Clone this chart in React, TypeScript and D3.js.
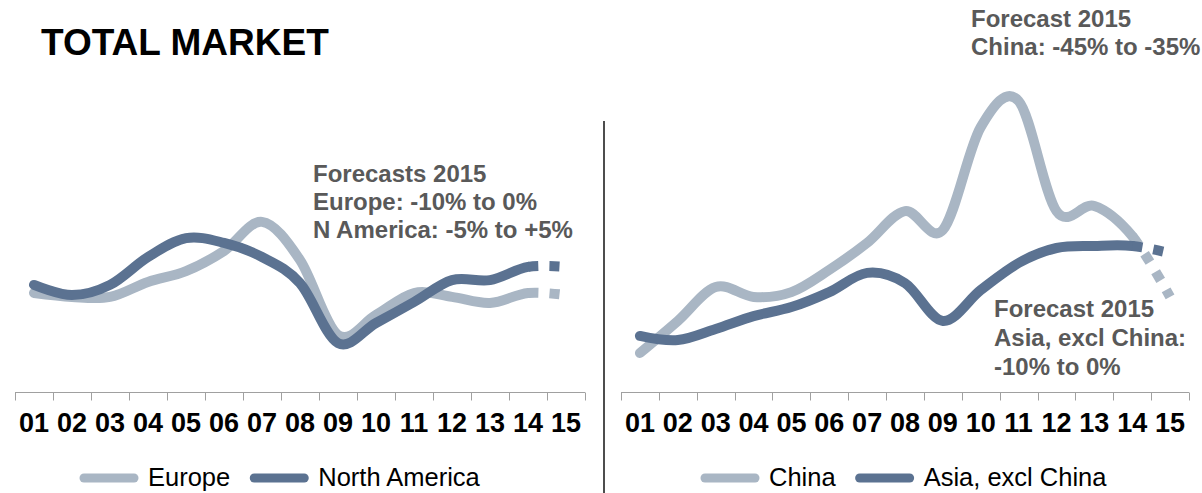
import React, { useEffect, useRef } from 'react';
import * as d3 from 'd3';

// Category labels (years 2001..2015)
const years = ['01', '02', '03', '04', '05', '06', '07', '08', '09', '10', '11', '12', '13', '14', '15'];

// Index values (arbitrary index, 0..100); last point = 2015 forecast
const europe = [33, 31.7, 31.7, 36.7, 40.3, 47, 56.7, 44, 19, 25.7, 33, 31.7, 29.7, 33, 32.3];
const northAmerica = [35.7, 32.3, 35.7, 45, 51.3, 49.7, 45, 36.3, 16.3, 23, 30, 37.3, 37.3, 41.7, 41.7];
const china = [13, 23.7, 35, 31.7, 33.3, 40.7, 49.7, 60.3, 54, 88.3, 97, 60.3, 62, 52, 31.7];
const asiaExChina = [18.7, 17.3, 21, 25.3, 28.3, 33.3, 39.7, 36.3, 23.7, 34, 43, 48, 48.7, 48.7, 46.3];

const leftNotes = ['Forecasts 2015', 'Europe: -10% to 0%', 'N America: -5% to +5%'];
const chinaNotes = ['Forecast 2015', 'China: -45% to -35%'];
const asiaNotes = ['Forecast 2015', 'Asia, excl China:', '-10% to 0%'];

const LIGHT = '#A9B6C4';
const DARK = '#5B7291';
const FONT = 'Liberation Sans, Arial, Helvetica, sans-serif';

export default function App() {
  const ref = useRef<SVGSVGElement>(null);

  useEffect(() => {
    const svg = d3.select(ref.current);
    svg.selectAll('*').remove();

    const y = d3.scaleLinear().domain([0, 100]).range([392, 92]);
    const axisY = 392.5;

    const panels = [
      {
        x0: 15, x1: 585,
        series: [
          { name: 'Europe', values: europe, color: LIGHT },
          { name: 'North America', values: northAmerica, color: DARK },
        ],
        legend: { x: 80 },
      },
      {
        x0: 621, x1: 1189,
        series: [
          { name: 'China', values: china, color: LIGHT },
          { name: 'Asia, excl China', values: asiaExChina, color: DARK },
        ],
        legend: { x: 701 },
      },
    ];

    panels.forEach((p) => {
      const x = d3.scaleBand<string>().domain(years).range([p.x0, p.x1]).padding(0);
      const bw = x.bandwidth();
      const g = svg.append('g');

      // axis line + boundary ticks
      g.append('line')
        .attr('x1', p.x0).attr('x2', p.x1)
        .attr('y1', axisY).attr('y2', axisY)
        .attr('stroke', '#A0A0A0').attr('stroke-width', 1);
      const bounds = years.map((d) => x(d)!).concat([p.x1]);
      g.selectAll('line.tick').data(bounds).enter().append('line')
        .attr('x1', (d) => Math.round(d) + 0.5).attr('x2', (d) => Math.round(d) + 0.5)
        .attr('y1', axisY).attr('y2', axisY + 8)
        .attr('stroke', '#A0A0A0').attr('stroke-width', 1);
      g.selectAll('text.lab').data(years).enter().append('text')
        .attr('x', (d) => x(d)! + bw / 2)
        .attr('y', 432)
        .attr('text-anchor', 'middle')
        .attr('font-family', FONT).attr('font-weight', 'bold').attr('font-size', 27)
        .attr('fill', '#000')
        .text((d) => d);

      // lines
      const line = d3.line<number>()
        .x((_, i) => x(years[i])! + bw / 2)
        .y((d) => y(d))
        .curve(d3.curveCardinal.tension(0));
      const lastSolidX = x(years[years.length - 2])! + bw / 2;

      p.series.forEach((s) => {
        const dStr = line(s.values)!;
        const solid = g.append('path')
          .attr('d', dStr).attr('fill', 'none')
          .attr('stroke', s.color).attr('stroke-width', 10)
          .attr('stroke-linecap', 'round').attr('stroke-linejoin', 'round');
        const node = solid.node() as SVGPathElement;
        const total = node.getTotalLength();
        let lo = 0, hi = total;
        for (let k = 0; k < 40; k++) {
          const mid = (lo + hi) / 2;
          if (node.getPointAtLength(mid).x < lastSolidX) lo = mid; else hi = mid;
        }
        const L = lo;
        solid.attr('stroke-dasharray', `${L} ${total + 100}`);
        g.append('path')
          .attr('d', dStr).attr('fill', 'none')
          .attr('stroke', s.color).attr('stroke-width', 10)
          .attr('stroke-linecap', 'butt')
          .attr('stroke-dasharray', `0 ${L} 10 11 10 11 10 11 10 11 10 ${total + 100}`);
      });

      // legend
      let lx = p.legend.x;
      p.series.forEach((s) => {
        g.append('line')
          .attr('x1', lx + 4).attr('x2', lx + 54)
          .attr('y1', 478).attr('y2', 478)
          .attr('stroke', s.color).attr('stroke-width', 9).attr('stroke-linecap', 'round');
        const t = g.append('text')
          .attr('x', lx + 68).attr('y', 486)
          .attr('font-family', FONT).attr('font-size', 25.5).attr('fill', '#000')
          .text(s.name);
        const w = (t.node() as SVGTextElement).getComputedTextLength();
        lx = lx + 68 + w + 20;
      });
    });

    // divider
    svg.append('line')
      .attr('x1', 604).attr('x2', 604).attr('y1', 121).attr('y2', 493)
      .attr('stroke', '#4D4D4D').attr('stroke-width', 2);

    // title
    svg.append('text')
      .attr('x', 41).attr('y', 55)
      .attr('font-family', FONT).attr('font-weight', 'bold').attr('font-size', 37)
      .attr('fill', '#000')
      .text('TOTAL MARKET');

    const notes = (lines: string[], x0: number, y0: number, dy: number) => {
      const t = svg.append('text')
        .attr('font-family', FONT).attr('font-weight', 'bold').attr('font-size', 24)
        .attr('fill', '#595959');
      lines.forEach((l, i) => {
        t.append('tspan').attr('x', x0).attr('y', y0 + i * dy).text(l);
      });
    };
    notes(leftNotes, 313, 182, 28);
    notes(chinaNotes, 971, 27, 28);
    notes(asiaNotes, 994, 317, 29);
  }, []);

  return (
    <svg
      ref={ref}
      width={1202}
      height={493}
      style={{ position: 'absolute', left: 0, top: 0, background: '#fff' }}
    />
  );
}
